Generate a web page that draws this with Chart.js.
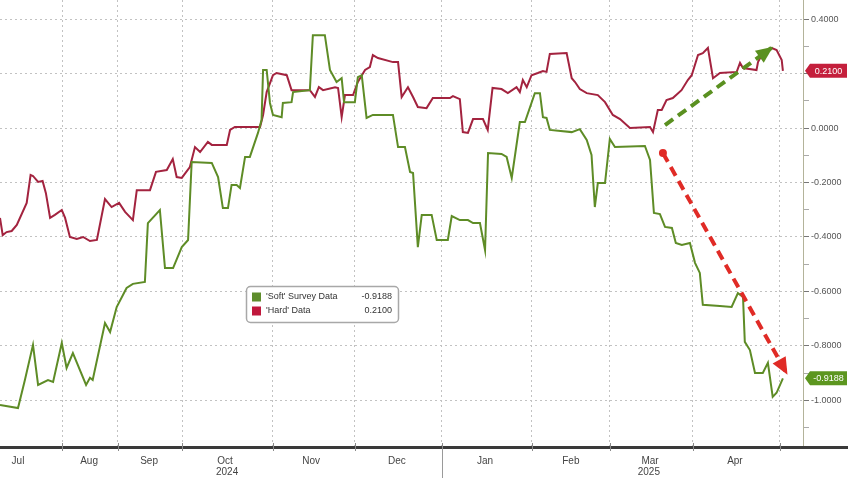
<!DOCTYPE html>
<html>
<head>
<meta charset="utf-8">
<script src="https://cdn.jsdelivr.net/npm/chart.js@4.4.1/dist/chart.umd.min.js"></script>
<style>
  html, body { margin: 0; padding: 0; background: #fff; }
</style>
</head>
<body>
<canvas id="chart" width="848" height="478"></canvas>
<script>
// ── Data (x = observation position along the time axis, y = index value) ─────
const X_MAX = 267.7;
const monthEdges   = [20.7, 39.3, 60.7, 91.0, 118.3, 147.3, 177.3, 203.3, 231.0, 260.0];
const monthNames   = ['Jul', 'Aug', 'Sep', 'Oct', 'Nov', 'Dec', 'Jan', 'Feb', 'Mar', 'Apr'];
const monthCenters = [6, 29.7, 49.7, 75, 103.7, 132.3, 161.7, 190.3, 216.7, 245];
const yearNames    = ['2024', '2025'];
const yearCenters  = [75.7, 216.3];
const yearBreak    = 147.3;

const yMajor = [0.4, 0.2, 0, -0.2, -0.4, -0.6, -0.8, -1.0];
const yMinor = [0.3, 0.1, -0.1, -0.3, -0.5, -0.7, -0.9, -1.1];

const softSurvey = [
  [0,-1.017],[6.0,-1.028],[8.3,-0.925],[11.0,-0.796],[12.7,-0.943],[16.0,-0.925],[17.7,-0.932],
  [20.6,-0.789],[22.2,-0.881],[24.3,-0.826],[28.7,-0.943],[30.0,-0.917],[30.9,-0.925],[35.0,-0.716],
  [36.7,-0.749],[38.9,-0.657],[42.2,-0.587],[44.3,-0.572],[48.3,-0.565],[49.3,-0.349],[53.3,-0.301],
  [55.0,-0.514],[57.7,-0.514],[60.6,-0.437],[62.7,-0.411],[63.9,-0.125],[70.6,-0.128],[72.7,-0.180],
  [74.3,-0.294],[76.0,-0.294],[77.2,-0.209],[78.9,-0.209],[80.0,-0.220],[81.7,-0.106],[83.3,-0.106],
  [86.0,-0.018],[87.2,0.029],[87.7,0.213],[88.9,0.213],[90.0,0.092],[91.0,0.048],[93.9,0.040],
  [94.3,0.092],[97.2,0.095],[97.7,0.132],[103.3,0.139],[104.3,0.341],[108.3,0.341],[110.0,0.213],
  [112.2,0.169],[113.9,0.183],[114.7,0.095],[118.3,0.095],[119.3,0.187],[120.6,0.194],[122.2,0.037],
  [124.3,0.048],[131.0,0.048],[132.7,-0.070],[135.0,-0.070],[136.7,-0.161],[137.7,-0.165],[139.3,-0.437],
  [140.6,-0.319],[143.9,-0.319],[145.6,-0.411],[149.3,-0.411],[150.6,-0.323],[153.3,-0.338],[156.0,-0.338],
  [157.7,-0.349],[160.0,-0.349],[161.7,-0.448],[162.7,-0.092],[167.2,-0.095],[168.9,-0.106],[170.6,-0.183],
  [173.3,0.022],[175.0,0.022],[178.3,0.128],[180.0,0.128],[181.0,0.040],[182.2,0.037],[183.3,-0.007],
  [190.6,-0.015],[193.3,-0.004],[195.6,-0.044],[197.2,-0.099],[198.3,-0.290],[199.3,-0.202],[201.7,-0.202],
  [203.3,-0.040],[205.0,-0.070],[215.0,-0.066],[216.7,-0.117],[218.0,-0.312],[220.0,-0.316],[221.7,-0.363],
  [224.0,-0.367],[225.3,-0.422],[227.3,-0.429],[230.0,-0.422],[231.7,-0.495],[233.3,-0.532],[234.3,-0.649],
  [240.0,-0.653],[243.9,-0.657],[246.0,-0.606],[247.7,-0.620],[248.3,-0.785],[250.0,-0.815],[251.7,-0.899],
  [254.3,-0.899],[256.0,-0.862],[257.6,-0.987],[258.9,-0.972],[261.0,-0.9188]
];

const hardData = [
  [0,-0.330],[0.9,-0.393],[2.2,-0.382],[3.9,-0.378],[5.6,-0.356],[8.9,-0.275],[10.2,-0.172],[11.0,-0.176],
  [12.7,-0.198],[14.2,-0.194],[15.3,-0.239],[16.7,-0.330],[18.3,-0.319],[20.6,-0.301],[21.7,-0.330],
  [23.3,-0.400],[25.6,-0.407],[27.7,-0.400],[30.0,-0.415],[32.3,-0.411],[35.0,-0.261],[37.2,-0.290],
  [39.7,-0.275],[41.7,-0.308],[44.3,-0.338],[45.6,-0.228],[50.0,-0.228],[52.0,-0.161],[55.6,-0.154],
  [57.6,-0.114],[58.9,-0.180],[60.6,-0.183],[63.3,-0.143],[65.0,-0.070],[66.7,-0.088],[69.3,-0.051],
  [70.6,-0.062],[75.6,-0.062],[76.7,-0.007],[78.3,0.004],[86.7,0.004],[87.7,0.048],[88.9,0.132],
  [91.0,0.194],[92.2,0.202],[95.6,0.194],[97.2,0.139],[103.3,0.139],[105.0,0.114],[106.3,0.150],
  [107.7,0.139],[111.7,0.150],[112.7,0.147],[113.9,0.040],[115.0,0.121],[117.7,0.121],[119.3,0.169],
  [121.7,0.213],[123.3,0.224],[124.3,0.268],[126.0,0.257],[131.0,0.242],[132.7,0.242],[133.9,0.114],
  [136.0,0.150],[137.7,0.114],[139.3,0.077],[142.2,0.073],[144.3,0.110],[150.0,0.110],[151.0,0.117],
  [153.3,0.106],[154.3,-0.015],[156.0,-0.018],[157.7,0.033],[161.0,0.033],[162.6,-0.007],[164.2,0.147],
  [167.2,0.143],[169.3,0.128],[172.2,0.150],[173.3,0.132],[174.3,0.176],[175.6,0.150],[177.2,0.194],
  [179.3,0.202],[181.0,0.209],[182.2,0.206],[183.3,0.272],[188.9,0.275],[190.6,0.183],[191.7,0.169],
  [193.3,0.143],[195.6,0.128],[199.3,0.121],[201.7,0.095],[204.3,0.048],[206.7,0.033],[210.0,0.000],
  [216.7,0.004],[217.7,-0.015],[219.3,0.066],[220.6,0.066],[222.2,0.103],[224.3,0.110],[227.2,0.139],
  [229.3,0.176],[230.6,0.194],[232.7,0.268],[234.3,0.275],[236.0,0.294],[237.7,0.183],[240.0,0.202],
  [245.6,0.206],[246.7,0.239],[247.7,0.220],[252.2,0.213],[252.7,0.242],[254.3,0.275],[257.2,0.294],
  [258.9,0.286],[260.6,0.250],[261.0,0.210]
];

const greenArrow = [[221.7, 0.011], [257.2, 0.294]];
const redArrow   = [[221.0, -0.092], [262.2, -0.899]];

const softLabel = "'Soft' Survey Data";
const hardLabel = "'Hard' Data";

// ── Styling ───────────────────────────────────────────────────────────────────
const SOFT_COLOR = '#5e8c26';
const HARD_COLOR = '#a3233f';
const FONT = "'Liberation Sans Narrow', 'Liberation Sans', Arial, sans-serif";
const GRID = '#c2c2c2';

const isMajor = v => yMajor.some(m => Math.abs(m - v) < 1e-6);
const pts = arr => arr.map(([x, y]) => ({ x, y }));
const lastVal = arr => arr[arr.length - 1][1];
const noPad = s => { s.paddingTop = 0; s.paddingBottom = 0; s.paddingLeft = 0; s.paddingRight = 0; };

function tagBox(ctx, y, x0, x1, color, text) {
  ctx.save();
  ctx.fillStyle = color;
  ctx.beginPath();
  ctx.moveTo(x0, y);
  ctx.lineTo(x0 + 5, y - 7);
  ctx.lineTo(x1, y - 7);
  ctx.lineTo(x1, y + 7);
  ctx.lineTo(x0 + 5, y + 7);
  ctx.closePath();
  ctx.fill();
  ctx.fillStyle = '#fff';
  ctx.font = `9px ${FONT}`;
  ctx.textAlign = 'center';
  ctx.textBaseline = 'middle';
  ctx.fillText(text, (x0 + 5 + x1) / 2, y + 0.5);
  ctx.restore();
}

function arrowHead(ctx, p0, p1, color) {
  const a = Math.atan2(p1.y - p0.y, p1.x - p0.x), L = 15, W = 7.5;
  const bx = p1.x - L * Math.cos(a), by = p1.y - L * Math.sin(a);
  ctx.save();
  ctx.fillStyle = color;
  ctx.beginPath();
  ctx.moveTo(p1.x + 2 * Math.cos(a), p1.y + 2 * Math.sin(a));
  ctx.lineTo(bx + W * Math.sin(a), by - W * Math.cos(a));
  ctx.lineTo(bx - W * Math.sin(a), by + W * Math.cos(a));
  ctx.closePath();
  ctx.fill();
  ctx.restore();
}

const decor = {
  id: 'decor',
  afterDatasetsDraw(chart) {
    const ctx = chart.ctx;
    [[0, '#5a9020'], [1, '#e02b26']].forEach(([i, c]) => {
      const d = chart.getDatasetMeta(i).data;
      arrowHead(ctx, d[0], d[d.length - 1], c);
    });
  },
  afterDraw(chart) {
    const ctx = chart.ctx;
    const xs = chart.scales.x, ys = chart.scales.y;
    const bottom = chart.chartArea.bottom;

    // bottom axis bar + month tick marks + year separator + year labels
    ctx.save();
    ctx.fillStyle = '#3a3a3a';
    ctx.fillRect(0, bottom - 1, chart.width, 3);
    ctx.strokeStyle = '#8a8a8a';
    ctx.lineWidth = 1;
    monthEdges.forEach(v => {
      const px = Math.round(xs.getPixelForValue(v)) + 0.5;
      ctx.beginPath();
      ctx.moveTo(px, bottom - 4);
      ctx.lineTo(px, bottom + 4);
      ctx.stroke();
    });
    ctx.strokeStyle = '#9a9a9a';
    const sx = Math.round(xs.getPixelForValue(yearBreak)) + 0.5;
    ctx.beginPath();
    ctx.moveTo(sx, bottom + 2);
    ctx.lineTo(sx, chart.height);
    ctx.stroke();
    ctx.fillStyle = '#444';
    ctx.font = `10px ${FONT}`;
    ctx.textAlign = 'center';
    ctx.textBaseline = 'middle';
    yearNames.forEach((t, i) => ctx.fillText(t, xs.getPixelForValue(yearCenters[i]), bottom + 25));
    ctx.restore();

    // last value tags on the right axis
    const ax = chart.chartArea.right + 2;
    tagBox(ctx, ys.getPixelForValue(lastVal(hardData)), ax, chart.width - 1, '#c41f3c', lastVal(hardData).toFixed(4));
    tagBox(ctx, ys.getPixelForValue(lastVal(softSurvey)), ax, chart.width - 1, '#5c961f', lastVal(softSurvey).toFixed(4));

    // legend box
    ctx.save();
    ctx.fillStyle = '#fff';
    ctx.strokeStyle = '#a8a8a8';
    ctx.lineWidth = 1.5;
    ctx.beginPath();
    ctx.roundRect(246.5, 286.5, 152, 36, 4);
    ctx.fill();
    ctx.stroke();
    ctx.font = `9px ${FONT}`;
    ctx.textBaseline = 'middle';
    [[softLabel, '#5e8d2c', lastVal(softSurvey)], [hardLabel, '#c0183c', lastVal(hardData)]].forEach(([lbl, c, v], i) => {
      const yy = 297 + i * 14;
      ctx.fillStyle = c;
      ctx.fillRect(252, yy - 4.5, 9, 9);
      ctx.fillStyle = '#333';
      ctx.textAlign = 'left';
      ctx.fillText(lbl, 266, yy);
      ctx.textAlign = 'right';
      ctx.fillText(v.toFixed(4), 392, yy);
    });
    ctx.restore();
  }
};

new Chart(document.getElementById('chart'), {
  type: 'line',
  data: {
    datasets: [
      {
        label: 'up', data: pts(greenArrow), borderColor: '#5a9020',
        borderWidth: 4, borderDash: [10, 6], pointRadius: 0, order: 0
      },
      {
        label: 'down', data: pts(redArrow), borderColor: '#e02b26',
        borderWidth: 4, borderDash: [10, 6], pointRadius: [4, 0],
        pointBackgroundColor: '#e02b26', pointBorderWidth: 0, order: 0
      },
      {
        label: softLabel, data: pts(softSurvey), borderColor: SOFT_COLOR,
        borderWidth: 2, pointRadius: 0, tension: 0, order: 1
      },
      {
        label: hardLabel, data: pts(hardData), borderColor: HARD_COLOR,
        borderWidth: 2, pointRadius: 0, tension: 0, order: 2
      }
    ]
  },
  options: {
    responsive: false, animation: false, devicePixelRatio: 1,
    layout: { padding: 0, autoPadding: false },
    plugins: { legend: { display: false }, tooltip: { enabled: false } },
    scales: {
      x: {
        type: 'linear', position: 'bottom', min: 0, max: X_MAX,
        afterBuildTicks: s => { s.ticks = monthEdges.map(v => ({ value: v })); },
        afterFit: s => { s.height = 0; noPad(s); },
        ticks: { display: false },
        grid: { color: GRID, lineWidth: 1, drawTicks: false },
        border: { display: false, dash: [2, 3] }
      },
      xm: {
        type: 'linear', position: 'bottom', min: 0, max: X_MAX,
        afterBuildTicks: s => { s.ticks = monthCenters.map(v => ({ value: v })); },
        afterFit: s => { s.height = 31; noPad(s); },
        grid: { display: false, drawTicks: false },
        border: { display: false },
        ticks: {
          autoSkip: false, maxRotation: 0, padding: 8, color: '#444',
          font: { family: FONT, size: 10 },
          callback: (v, i) => monthNames[i]
        }
      },
      y: {
        type: 'linear', position: 'right', min: -1.171, max: 0.47,
        afterBuildTicks: s => { s.ticks = [...yMajor, ...yMinor].sort((a, b) => b - a).map(v => ({ value: v })); },
        afterFit: s => { s.width = 45; noPad(s); },
        ticks: {
          autoSkip: false, padding: 2, color: '#555',
          font: { family: FONT, size: 9 },
          callback: v => isMajor(v) ? v.toFixed(4) : ''
        },
        grid: {
          color: c => (c.tick && isMajor(c.tick.value)) ? GRID : 'rgba(0,0,0,0)',
          tickColor: c => (c.tick && isMajor(c.tick.value)) ? '#777' : '#aaa',
          tickLength: 6, drawTicks: true
        },
        border: { display: true, color: '#b3b39a', width: 1, dash: [2, 3] }
      }
    }
  },
  plugins: [decor]
});
</script>
</body>
</html>
